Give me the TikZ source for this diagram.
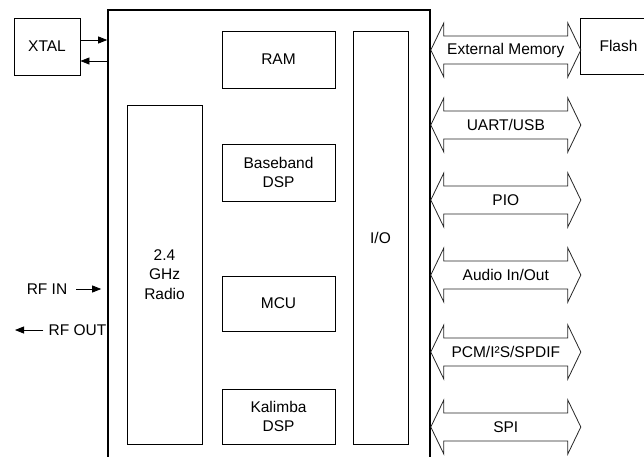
\documentclass[tikz,border=0pt]{standalone}
\usepackage{fontspec}
\setmainfont{Liberation Sans}
\usetikzlibrary{arrows.meta,positioning,calc}
\tikzset{
  blk/.style={draw,line width=0.8pt,inner sep=0pt,align=center,
    font=\fontsize{15.5}{19.5}\selectfont},
  core/.style={blk,minimum width=113pt,minimum height=57pt},
  chipbox/.style={draw,line width=1.6pt,minimum width=322pt,minimum height=470pt},
  sig/.style={-{Triangle[length=9pt,width=7pt]},line width=0.8pt},
  bus/.style={draw=black!85,line width=0.8pt,line join=miter},
  lbl/.style={inner sep=0pt,font=\fontsize{15.5}{19.5}\selectfont}
}

\begin{document}
\begin{tikzpicture}[x=1pt,y=-1pt]
  \clip (0,0) rectangle (644,456);

  \node[chipbox] (chip) at (269,245) {};
  \node[blk,minimum width=66pt,minimum height=57pt] (xtal) at (47,46.5) {XTAL};
  \node[blk,minimum width=77pt,minimum height=56pt] (flash) at (618.5,46) {Flash};

  % blocks inside the chip
  \node[core] (ram) at (278.5,59.5) {RAM};
  \node[core] (bb) at (278.5,172.5) {Baseband\\DSP};
  \node[core,minimum height=55pt] (mcu) at (278.5,303.5) {MCU};
  \node[core,minimum height=55pt] (kal) at (278.5,416.5) {Kalimba\\DSP};
  \node[blk,minimum width=75pt,minimum height=339pt] (radio) at (164.5,274.5)
    {2.4\\GHz\\Radio};
  \node[blk,minimum width=55pt,minimum height=413pt] (io) at (380.5,237.5) {I/O};

  % clock and RF
  \draw[sig] ([yshift=6.5pt]xtal.east) -- ([yshift=6.5pt]xtal.east -| chip.west);
  \draw[sig] ([yshift=-14.5pt]xtal.east -| chip.west) -- ([yshift=-14.5pt]xtal.east);

  \node[lbl] (rfin) at (47,289) {RF IN};
  \draw[sig,shorten <=9pt,shorten >=6pt] (rfin.east) -- (rfin.east -| chip.west);
  \node[lbl] (rfout) at (77.5,330) {RF OUT};
  \coordinate (rfend) at (15,330);
  \draw[sig,shorten <=5pt] (rfout.west) -- (rfend);

  % interfaces
  \foreach \y/\txt [count=\i] in {50/{External Memory},125/{UART/USB},200/{PIO},
      275/{Audio In/Out},352/{PCM/I²S/SPDIF},427/{SPI}}{
    \coordinate (tip\i) at (chip.east |- 0,\y);
    \draw[bus] (tip\i) -- ++(13,-27) -- ++(0,13) -- ++(124,0) -- ++(0,-13)
      -- ++(13,27) -- ++(-13,27) -- ++(0,-13) -- ++(-124,0) -- ++(0,13) -- cycle;
    \node[lbl] (bus\i) at ([xshift=75pt]tip\i) {\txt};
  }
\end{tikzpicture}
\end{document}
